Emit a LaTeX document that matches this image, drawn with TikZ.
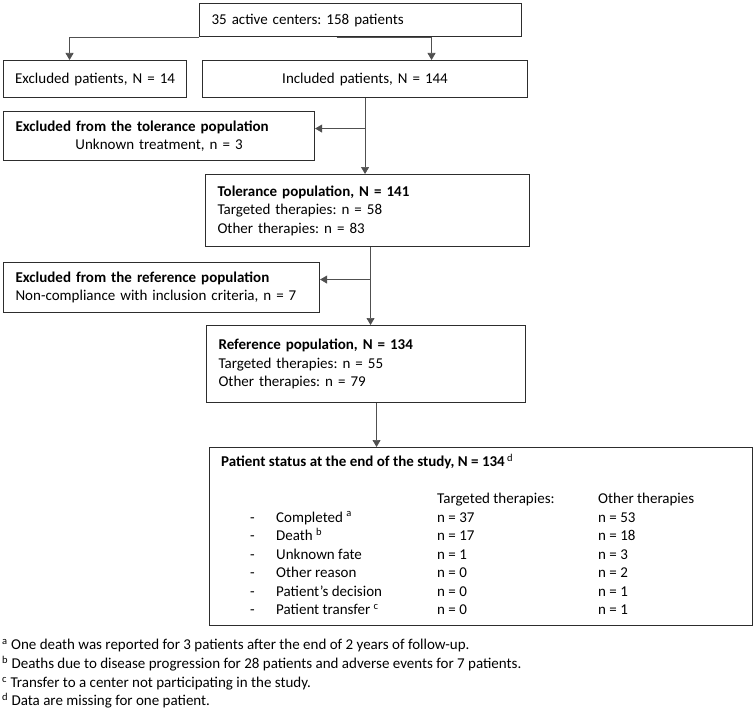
\documentclass[tikz,border=0pt]{standalone}
\usepackage{xcolor}
\usepackage{fontspec}
\setmainfont{Carlito}
\usepackage{tikz}
\usetikzlibrary{arrows.meta,positioning,calc}
\definecolor{boxline}{RGB}{45,45,45}
\definecolor{linkgray}{RGB}{80,80,80}
\frenchspacing

\tikzset{
  flowbox/.style={draw=boxline, line width=1.1pt, anchor=north west, inner xsep=12pt, inner ysep=0pt, align=left},
  link/.style={draw=linkgray, line width=0.7pt, -{Triangle[width=8pt,length=7pt]}},
  celltext/.style={anchor=west, inner sep=0pt, text height=10.5pt, text depth=3.5pt},
}

\begin{document}
\begin{tikzpicture}[x=1pt, y=-1pt, font=\fontsize{15}{18.5}\selectfont]
        \useasboundingbox (0,0) rectangle (755,709);

        % flow boxes
        \node[flowbox, minimum width=322pt, minimum height=33pt, text width=298pt] (centers) at (199,3) {35 active centers: 158 patients};
        \node[flowbox, inner xsep=4pt, minimum width=183pt, minimum height=37pt, text width=175pt, align=center] (excluded) at (3,60) {Excluded patients, N = 14};
        \node[flowbox, minimum width=325pt, minimum height=37pt, text width=301pt, align=center] (included) at (202,60) {Included patients, N = 144};
        \node[flowbox, minimum width=311pt, minimum height=49pt, text width=287pt, align=center] (extol) at (3,111) {
            \makebox[\linewidth][l]{\textbf{Excluded from the tolerance population}}\\
            Unknown treatment, n = 3};
        \node[flowbox, minimum width=324pt, minimum height=72pt, text width=300pt] (tolerance) at (205,174) {
            \textbf{Tolerance population, N = 141}\\
            Targeted therapies: n = 58\\
            Other therapies: n = 83};
        \node[flowbox, minimum width=316pt, minimum height=50pt, text width=292pt] (exref) at (3,262) {
            \textbf{Excluded from the reference population}\\
            Non-compliance with inclusion criteria, n = 7};
        \node[flowbox, minimum width=319pt, minimum height=77pt, text width=295pt] (reference) at (206,325) {
            \textbf{Reference population, N = 134}\\
            Targeted therapies: n = 55\\
            Other therapies: n = 79};
        \node[flowbox, minimum width=543pt, minimum height=178pt] (status) at (209,447) {};

        % patient status table
        \node[celltext] (stitle) at (221,463) {\textbf{Patient status at the end of the study, N = 134}\,\textsuperscript{d}};
        \node[celltext] (thead) at (437,500) {Targeted therapies:};
        \node[celltext] (ohead) at (598,500) {Other therapies};
        \foreach \lbl/\tv/\ov [count=\i] in {Completed \textsuperscript{a}/37/53, Death \textsuperscript{b}/17/18, Unknown fate/1/3, Other reason/0/2, Patient’s decision/0/1, Patient transfer \textsuperscript{c}/0/1}{
            \pgfmathsetmacro{\rowy}{500+18.5*\i}
            \node[celltext] (dash\i) at (250,\rowy) {-};
            \node[celltext] (reason\i) at (276,\rowy) {\lbl};
            \node[celltext] (tgt\i) at (437,\rowy) {n = \tv};
            \node[celltext] (oth\i) at (598,\rowy) {n = \ov};
        }

        % footnotes
        \node[celltext] (fna) at (2,646) {\textsuperscript{a} One death was reported for 3 patients after the end of 2 years of follow-up.};
        \node[celltext] (fnb) at (2,665) {\textsuperscript{b} Deaths due to disease progression for 28 patients and adverse events for 7 patients.};
        \node[celltext] (fnc) at (2,684) {\textsuperscript{c} Transfer to a center not participating in the study.};
        \node[celltext] (fnd) at (2,702) {\textsuperscript{d} Data are missing for one patient.};

        % connectors
        \coordinate (inclfork) at ($(centers.south)+(71,0)$);
        \coordinate (tolfork) at ($(tolerance.south)+(3,0)$);
        \coordinate (reffork) at ($(reference.south)+(10.5,0)$);
        \draw[link] (centers.south west) -| ($(excluded.north)+(-25.5,0)$);
        \draw[link] ($(centers.south)+(-24,0)$) -- (inclfork) -- (inclfork |- included.north);
        \draw[link] (included.south) -- (included.south |- tolerance.north);
        \draw[link] ($(included.south |- extol.east)+(0,-7.5)$) -- ($(extol.east)+(0,-7.5)$);
        \draw[link] (tolfork) -- (tolfork |- reference.north);
        \draw[link] ($(tolfork |- exref.east)+(0,-8)$) -- ($(exref.east)+(0,-8)$);
        \draw[link] (reffork) -- (reffork |- status.north);
    \end{tikzpicture}
\end{document}
